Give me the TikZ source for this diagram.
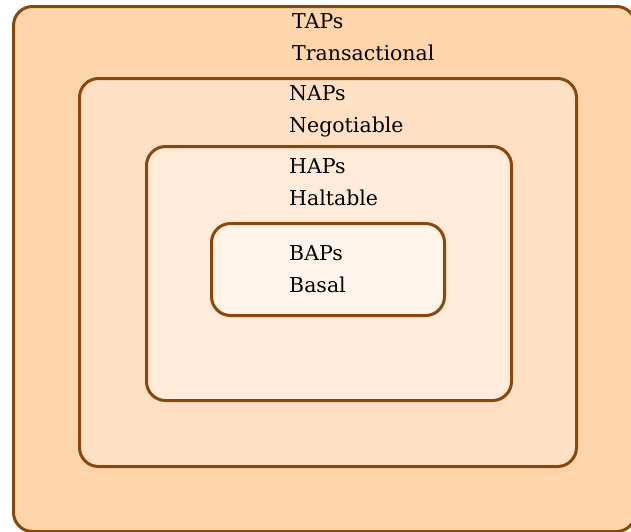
\documentclass[tikz,border=0pt]{standalone}
\usepackage{fontspec}
\setmainfont{DejaVu Serif}
\usetikzlibrary{positioning}
\definecolor{apline}{RGB}{140,70,5}
\definecolor{tapfill}{RGB}{255,214,172}
\definecolor{napfill}{RGB}{254,225,196}
\definecolor{hapfill}{RGB}{255,235,218}
\definecolor{bapfill}{RGB}{255,244,233}
\tikzset{
	layer box/.style={
		draw=apline,
		line width=3pt,
		rounded corners=19pt,
		inner sep=0pt,
		anchor=north west
	},
	layer label/.style={
		anchor=base west,
		align=left,
		inner sep=0pt,
		font=\fontsize{20.5}{32}\selectfont
	}
}

\begin{document}
\begin{tikzpicture}[x=1pt, y=-1pt]
		
		% --- frame of the picture ---
		\useasboundingbox (0,0) rectangle (631,531);
		
		% --- nested layers, outer to inner ---
		\node[layer box, fill=tapfill, minimum width=622pt, minimum height=525pt] (taps) at (12,5) {};
		\node[layer box, fill=napfill, minimum width=497pt, minimum height=388pt] (naps) at (78,77) {};
		\node[layer box, fill=hapfill, minimum width=365pt, minimum height=254pt] (haps) at (145,145) {};
		\node[layer box, fill=bapfill, minimum width=233pt, minimum height=92pt] (baps) at (210,222) {};
		
		% --- labels (anchored at the baseline of the second line) ---
		\node[layer label] (tapstext) at (292,60) {TAPs\\Transactional};
		\node[layer label] (napstext) at (289,132) {NAPs\\Negotiable};
		\node[layer label] (hapstext) at (289,205) {HAPs\\Haltable};
		\node[layer label] (bapstext) at (289,292) {BAPs\\Basal};
		
	\end{tikzpicture}
\end{document}
